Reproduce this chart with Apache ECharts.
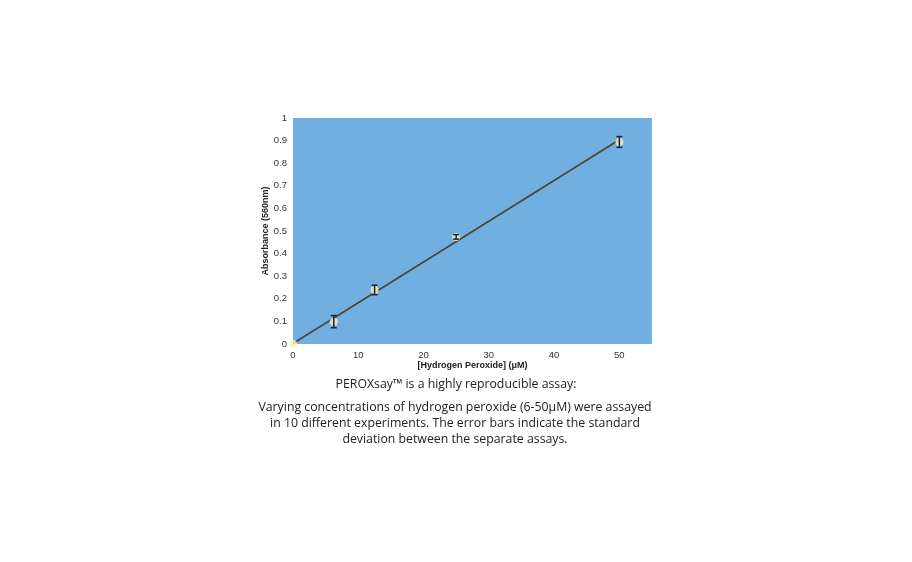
<!DOCTYPE html>
<html>
<head>
<meta charset="utf-8">
<script src="https://cdn.jsdelivr.net/npm/echarts@6/dist/echarts.min.js"></script>
<style>
html,body{margin:0;padding:0;background:#fff;}
#chart{width:912px;height:562px;}
</style>
</head>
<body>
<div id="chart"></div>
<script>
// Data
var concentrations = [0, 6.25, 12.5, 25, 50];
var absorbance = [0, 0.099, 0.239, 0.474, 0.894];
var stdDev = [0, 0.027, 0.021, 0.010, 0.024];
var trendX = [0, 50];
var trendY = [0.002, 0.904];
var xTicks = [0, 10, 20, 30, 40, 50];
var yTicks = [0, 0.1, 0.2, 0.3, 0.4, 0.5, 0.6, 0.7, 0.8, 0.9, 1];
var captionTitle = 'PEROXsay\u2122 is a highly reproducible assay:';
var captionLines = [
  'Varying concentrations of hydrogen peroxide (6-50\u03bcM) were assayed',
  'in 10 different experiments. The error bars indicate the standard',
  'deviation between the separate assays.'
];

var pointData = concentrations.map(function(c, i){ return [c, absorbance[i]]; });
var errData = concentrations.map(function(c, i){ return [c, absorbance[i] - stdDev[i], absorbance[i] + stdDev[i]]; }).filter(function(d, i){ return stdDev[i] > 0; });
var trendData = trendX.map(function(x, i){ return [x, trendY[i]]; });

var chart = echarts.init(document.getElementById('chart'), null, {renderer: 'canvas'});
var tickFont = {fontFamily: 'Liberation Sans, Arial, sans-serif', fontSize: 9.5, color: '#333'};
chart.setOption({
  animation: false,
  backgroundColor: '#ffffff',
  grid: {left: 293, top: 118, width: 359, height: 226, show: true, backgroundColor: '#71afe0', borderWidth: 0},
  xAxis: {
    type: 'value', min: 0, max: 55, interval: 10,
    name: '[Hydrogen Peroxide] (\u03bcM)', nameLocation: 'middle', nameGap: 17,
    nameTextStyle: {fontFamily: 'Liberation Sans, Arial, sans-serif', fontSize: 9, fontWeight: 'bold', color: '#222'},
    axisLine: {show: false}, axisTick: {show: false}, splitLine: {show: false},
    axisLabel: Object.assign({margin: 6, formatter: function(v){ return xTicks.indexOf(v) >= 0 ? String(v) : ''; }}, tickFont)
  },
  yAxis: {
    type: 'value', min: 0, max: 1, interval: 0.1,
    name: 'Absorbance (560nm)', nameLocation: 'middle', nameGap: 23, nameRotate: 90,
    nameTextStyle: {fontFamily: 'Liberation Sans, Arial, sans-serif', fontSize: 9, fontWeight: 'bold', color: '#222'},
    axisLine: {show: false}, axisTick: {show: false}, splitLine: {show: false},
    axisLabel: Object.assign({margin: 6, formatter: function(v){
      var r = Math.round(v * 10) / 10;
      return yTicks.indexOf(r) >= 0 ? String(r) : '';
    }}, tickFont)
  },
  series: [
    {
      type: 'line', data: trendData, symbol: 'none', silent: true,
      lineStyle: {color: '#4a4538', width: 1.7}, z: 3
    },
    {
      type: 'scatter', data: pointData, symbol: 'circle', symbolSize: 8, clip: false,
      itemStyle: {color: '#fff3b8', borderWidth: 0}, z: 4
    },
    {
      type: 'custom', data: errData, clip: false, z: 5,
      renderItem: function(params, api){
        var x = api.value(0);
        var lo = api.coord([x, api.value(1)]);
        var hi = api.coord([x, api.value(2)]);
        var w = 3;
        var style = {stroke: '#1c2140', lineWidth: 1.5};
        return {type: 'group', children: [
          {type: 'line', shape: {x1: lo[0], y1: lo[1], x2: hi[0], y2: hi[1]}, style: style},
          {type: 'line', shape: {x1: lo[0]-w, y1: lo[1], x2: lo[0]+w, y2: lo[1]}, style: style},
          {type: 'line', shape: {x1: hi[0]-w, y1: hi[1], x2: hi[0]+w, y2: hi[1]}, style: style}
        ]};
      },
      encode: {x: 0, y: [1, 2]}
    }
  ],
  graphic: [
    {type: 'text', x: 456, top: 378, style: {text: captionTitle, fontFamily: 'Open Sans, sans-serif', fontSize: 12.3, fill: '#222', textAlign: 'center'}},
    {type: 'text', x: 455, top: 399, style: {text: captionLines.join('\n'), fontFamily: 'Open Sans, sans-serif', fontSize: 12.3, lineHeight: 16, fill: '#222', textAlign: 'center'}}
  ]
});
</script>
</body>
</html>
